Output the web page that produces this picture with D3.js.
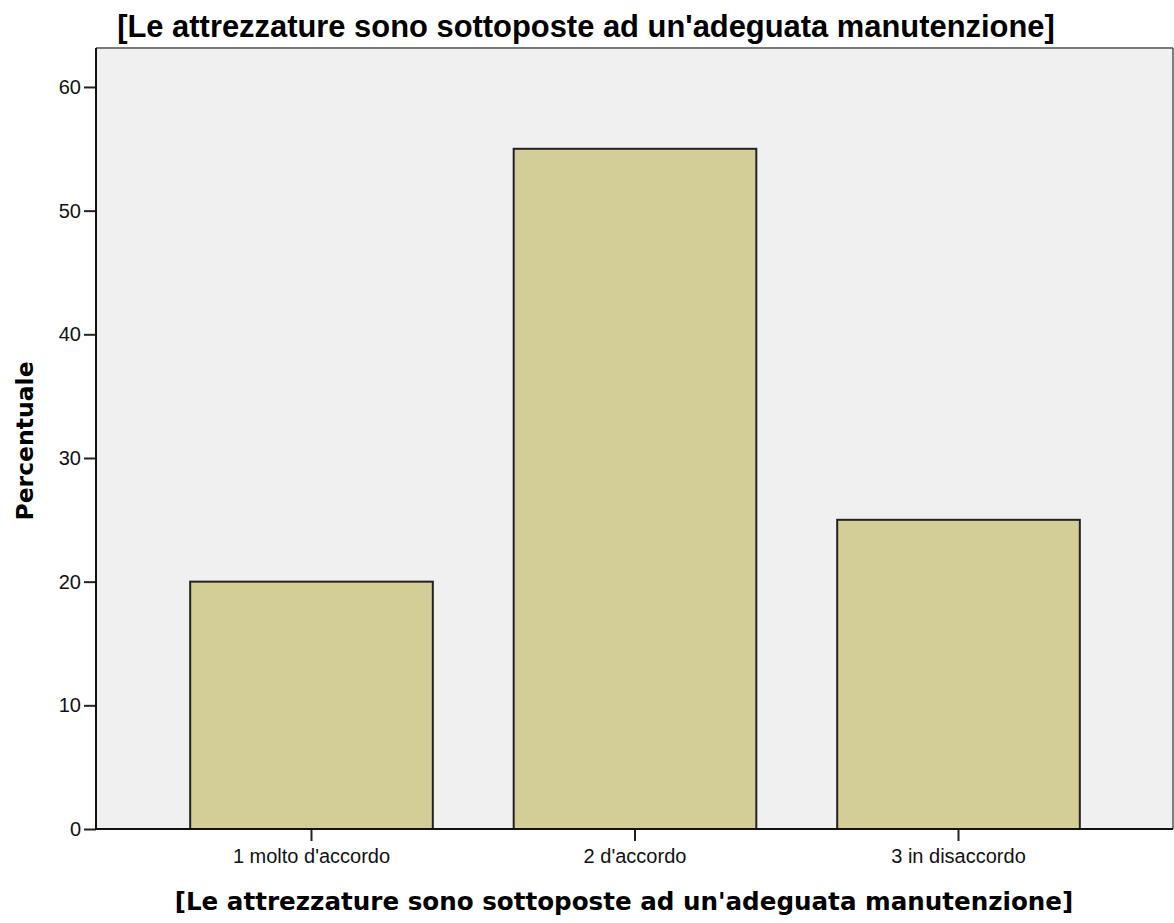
<!DOCTYPE html>
<html>
<head>
<meta charset="utf-8">
<script src="https://cdn.jsdelivr.net/npm/d3@7"></script>
<style>
  html, body { margin: 0; padding: 0; background: #fff; }
  svg { display: block; }
  .tick text { font-family: "Liberation Sans", Arial, sans-serif; font-size: 20px; fill: #111; }
</style>
</head>
<body>
<div id="chart"></div>
<script>

const categories = ["1 molto d'accordo", "2 d'accordo", "3 in disaccordo"];
const percentuali = [20, 55, 25];
const yTicks = [0, 10, 20, 30, 40, 50, 60];
const titolo = "[Le attrezzature sono sottoposte ad un'adeguata manutenzione]";
const yLabel = "Percentuale";

const W = 1174, H = 923;

// plot frame (pixel box of the grey area)
const frame = { top: 48, right: 1173, bottom: 829, left: 96 };

const svg = d3.select("#chart").append("svg")
  .attr("width", W)
  .attr("height", H);

const x = d3.scaleBand()
  .domain(categories)
  .range([149.75, 1120.25])
  .paddingInner(0.25)
  .paddingOuter(0.125);

const y = d3.scaleLinear()
  .domain([0, 63.15])
  .range([frame.bottom, frame.top]);

// background
svg.append("rect")
  .attr("x", frame.left)
  .attr("y", frame.top)
  .attr("width", frame.right - frame.left)
  .attr("height", frame.bottom - frame.top)
  .attr("fill", "#f0f0f0");

// top + right border
svg.append("line")
  .attr("x1", frame.left).attr("x2", frame.right)
  .attr("y1", frame.top).attr("y2", frame.top)
  .attr("stroke", "#7a7a7a").attr("stroke-width", 2);
svg.append("line")
  .attr("x1", frame.right).attr("x2", frame.right)
  .attr("y1", frame.top).attr("y2", frame.bottom)
  .attr("stroke", "#555").attr("stroke-width", 1.5);

// bars
svg.append("g").selectAll("rect")
  .data(percentuali)
  .join("rect")
  .attr("x", (d, i) => x(categories[i]))
  .attr("y", d => y(d))
  .attr("width", x.bandwidth())
  .attr("height", d => y(0) - y(d))
  .attr("fill", "#d3ce97")
  .attr("stroke", "#222")
  .attr("stroke-width", 2);

// y axis
const yAxis = svg.append("g")
  .attr("transform", "translate(" + frame.left + ",0)")
  .call(d3.axisLeft(y).tickValues(yTicks).tickSize(12).tickPadding(3));
yAxis.select(".domain").remove();
yAxis.selectAll(".tick line").attr("stroke", "#222").attr("stroke-width", 2);
svg.append("line")
  .attr("x1", frame.left).attr("x2", frame.left)
  .attr("y1", frame.top).attr("y2", frame.bottom + 1)
  .attr("stroke", "#111").attr("stroke-width", 2);

// x axis
const xAxis = svg.append("g")
  .attr("transform", "translate(0," + frame.bottom + ")")
  .call(d3.axisBottom(x).tickSize(12).tickPadding(8));
xAxis.select(".domain").remove();
xAxis.selectAll(".tick line").attr("stroke", "#222").attr("stroke-width", 2);
svg.append("line")
  .attr("x1", frame.left).attr("x2", frame.right)
  .attr("y1", frame.bottom).attr("y2", frame.bottom)
  .attr("stroke", "#111").attr("stroke-width", 2);

// titles
svg.append("text")
  .attr("x", 586)
  .attr("y", 37)
  .attr("text-anchor", "middle")
  .style("font-family", "'Liberation Sans', Arial, sans-serif")
  .style("font-weight", "bold")
  .style("font-size", "30.9px")
  .attr("fill", "#000")
  .text(titolo);

svg.append("text")
  .attr("x", 624)
  .attr("y", 910)
  .attr("text-anchor", "middle")
  .style("font-family", "'DejaVu Sans', Verdana, sans-serif")
  .style("font-weight", "bold")
  .style("font-size", "24.6px")
  .attr("fill", "#000")
  .text(titolo);

svg.append("text")
  .attr("transform", "translate(33,441) rotate(-90)")
  .attr("text-anchor", "middle")
  .style("font-family", "'DejaVu Sans', Verdana, sans-serif")
  .style("font-weight", "bold")
  .style("font-size", "23.5px")
  .attr("fill", "#000")
  .text(yLabel);

</script>
</body>
</html>
